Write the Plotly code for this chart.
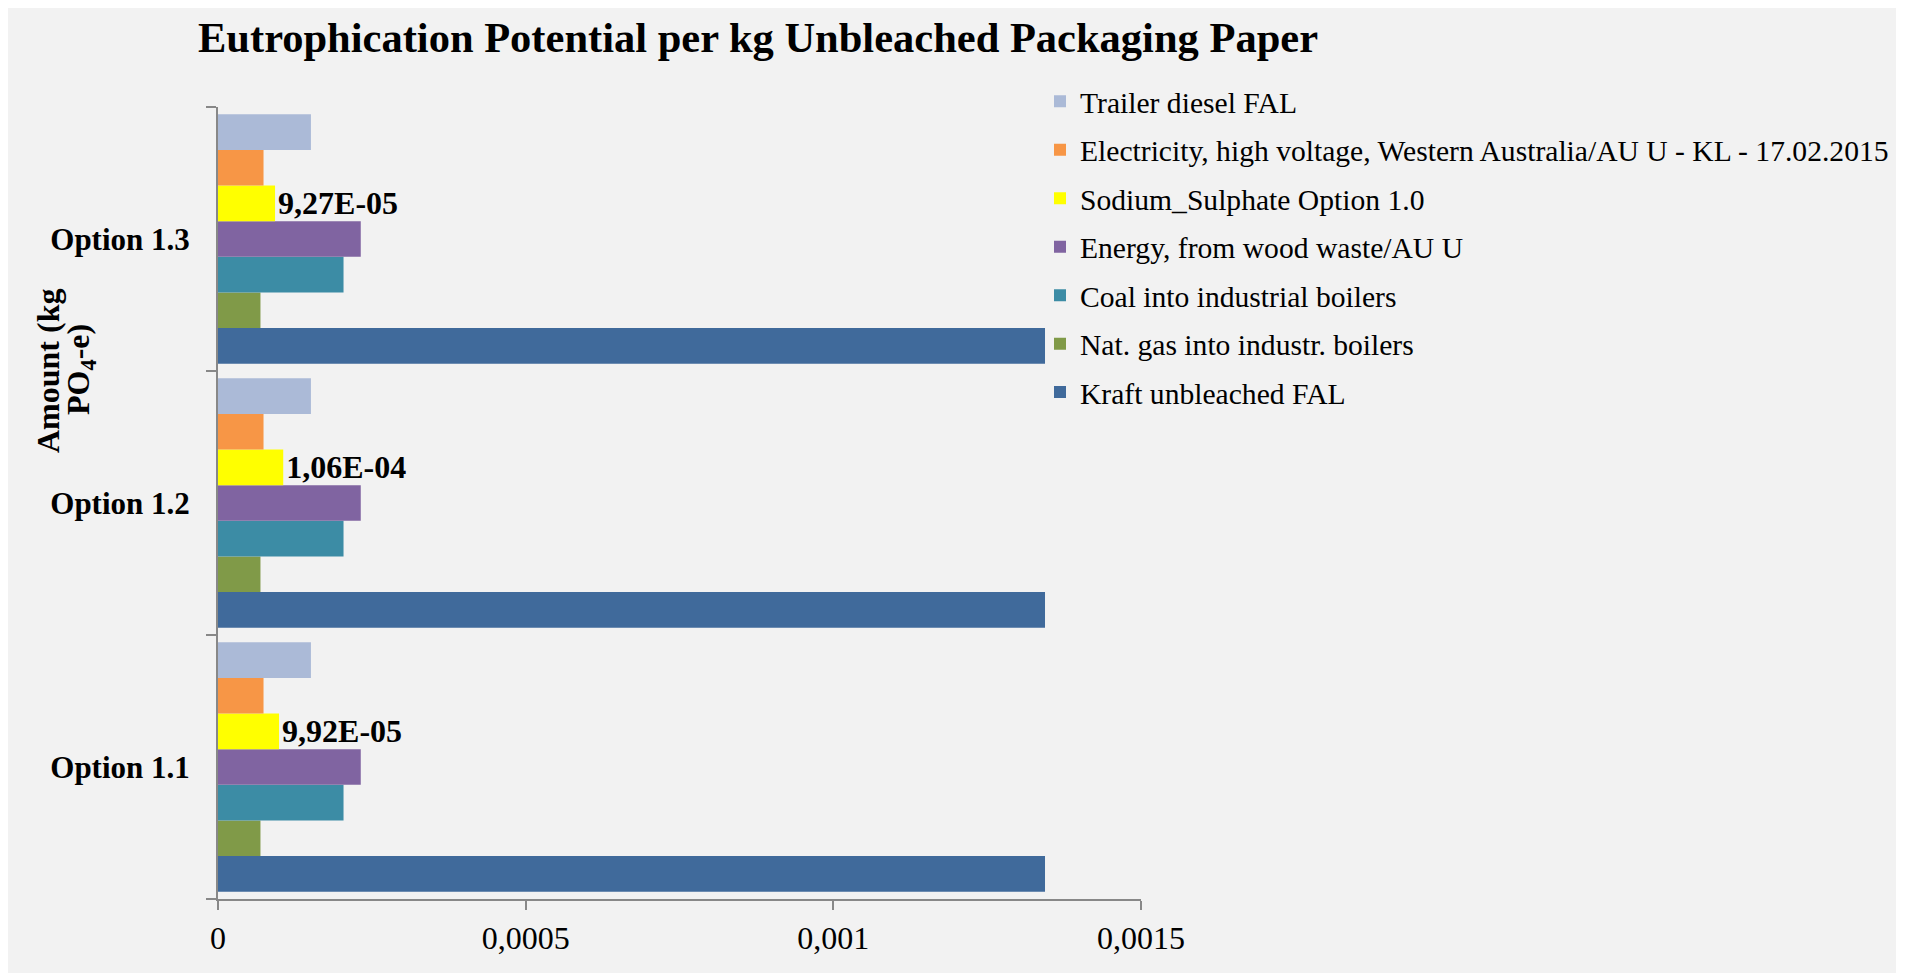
import plotly.graph_objects as go

categories = ["Option 1.1", "Option 1.2", "Option 1.3"]

series_names = [
    "Kraft unbleached FAL",
    "Nat. gas into industr. boilers",
    "Coal into industrial boilers",
    "Energy, from wood waste/AU U",
    "Sodium_Sulphate Option 1.0",
    "Electricity, high voltage, Western Australia/AU U - KL - 17.02.2015",
    "Trailer diesel FAL",
]

kraft = [1.344e-3, 1.344e-3, 1.344e-3]
nat_gas = [6.9e-5, 6.9e-5, 6.9e-5]
coal = [2.04e-4, 2.04e-4, 2.04e-4]
wood_waste = [2.32e-4, 2.32e-4, 2.32e-4]
sodium_sulphate = [9.92e-5, 1.06e-4, 9.27e-5]
electricity = [7.4e-5, 7.4e-5, 7.4e-5]
trailer_diesel = [1.51e-4, 1.51e-4, 1.51e-4]

series_values = [kraft, nat_gas, coal, wood_waste, sodium_sulphate, electricity, trailer_diesel]
colors = ["#406A9B", "#809A48", "#3C8CA5", "#8064A1", "#FFFF00", "#F79646", "#ABBAD7"]

x_ticks = [0, 0.0005, 0.001, 0.0015]

FONT = "Liberation Serif, Times New Roman, Tinos, DejaVu Serif, serif"

fig = go.Figure()
n = len(series_names)
for i, (name, vals, col) in enumerate(zip(series_names, series_values, colors)):
    kw = {}
    if name.startswith("Sodium"):
        kw = dict(
            text=[f"{v:.2E}".replace(".", ",") for v in vals],
            textposition="outside",
            textfont=dict(family=FONT, size=32, color="black", weight="bold"),
            constraintext="none",
            cliponaxis=False,
        )
    fig.add_trace(go.Bar(
        y=categories, x=vals, orientation="h", name=name,
        marker=dict(color=col, line=dict(width=0)),
        legendgroup=name,
        legendrank=1000 + (n - i),
        **kw,
    ))

# the page places the figure 8px from the top-left corner of the window
OFF = 8
W, H = 1905 - OFF, 973 - OFF
ml, mr, mt, mb = 218 - OFF, 1905 - 1141, 107 - OFF, 973 - 899
pw, ph = W - ml - mr, H - mt - mb


def px_x(x):  # window px -> x paper
    return (x - OFF - ml) / pw


def px_y(y):  # window px -> y paper
    return (H - mb - (y - OFF)) / ph


fig.update_layout(
    width=W, height=H,
    margin=dict(l=ml, r=mr, t=mt, b=mb, autoexpand=False),
    paper_bgcolor="white",
    plot_bgcolor="#F2F2F2",
    separators=", ",
    barmode="group",
    bargap=0.055,
    bargroupgap=0,
    font=dict(family=FONT, color="black"),
    title=dict(
        text="<b>Eutrophication Potential per kg Unbleached Packaging Paper</b>",
        font=dict(family=FONT, size=42.5, color="black"),
        xref="container", x=(198 - OFF) / W, xanchor="left",
        yref="container", y=1 - (37 - OFF) / H, yanchor="middle",
    ),
    legend=dict(
        traceorder="grouped",
        font=dict(family=FONT, size=29.6, color="black"),
        x=px_x(1040), xanchor="left",
        y=px_y(75.5), yanchor="top",
        bgcolor="rgba(0,0,0,0)",
        tracegroupgap=7,
        itemwidth=30,
    ),
    xaxis=dict(
        range=[0, 0.0015], tickvals=x_ticks, tickformat=".4~f",
        showgrid=False, zeroline=False,
        showline=True, linecolor="#888888", linewidth=2,
        ticks="outside", ticklen=9, tickcolor="#888888", tickwidth=2,
        tickfont=dict(family=FONT, size=32, color="black"),
        ticklabelstandoff=1,
    ),
    yaxis=dict(
        categoryorder="array", categoryarray=categories,
        showgrid=False, zeroline=False,
        showline=True, linecolor="#888888", linewidth=2,
        ticks="outside", ticklen=10, tickcolor="#888888", tickwidth=2,
        tickson="boundaries",
        tickfont=dict(family=FONT, size=31, color="black", weight="bold"),
        ticklabelstandoff=20,
    ),
    shapes=[dict(
        type="rect", xref="paper", yref="paper",
        x0=px_x(0), x1=px_x(1896),
        y0=px_y(973), y1=px_y(0),
        fillcolor="#F2F2F2", line=dict(width=0), layer="below",
    )],
    annotations=[
        dict(text="<b>Amount (kg</b>", xref="paper", yref="paper",
             x=0, xshift=48 - 218, y=px_y(371), textangle=-90,
             showarrow=False, xanchor="center", yanchor="middle",
             font=dict(family=FONT, size=32, color="black")),
        dict(text="<b>PO<sub>4</sub>-e)</b>", xref="paper", yref="paper",
             x=0, xshift=80 - 218, y=px_y(370), textangle=-90,
             showarrow=False, xanchor="center", yanchor="middle",
             font=dict(family=FONT, size=32, color="black")),
    ],
)

fig.write_html("out.html")
